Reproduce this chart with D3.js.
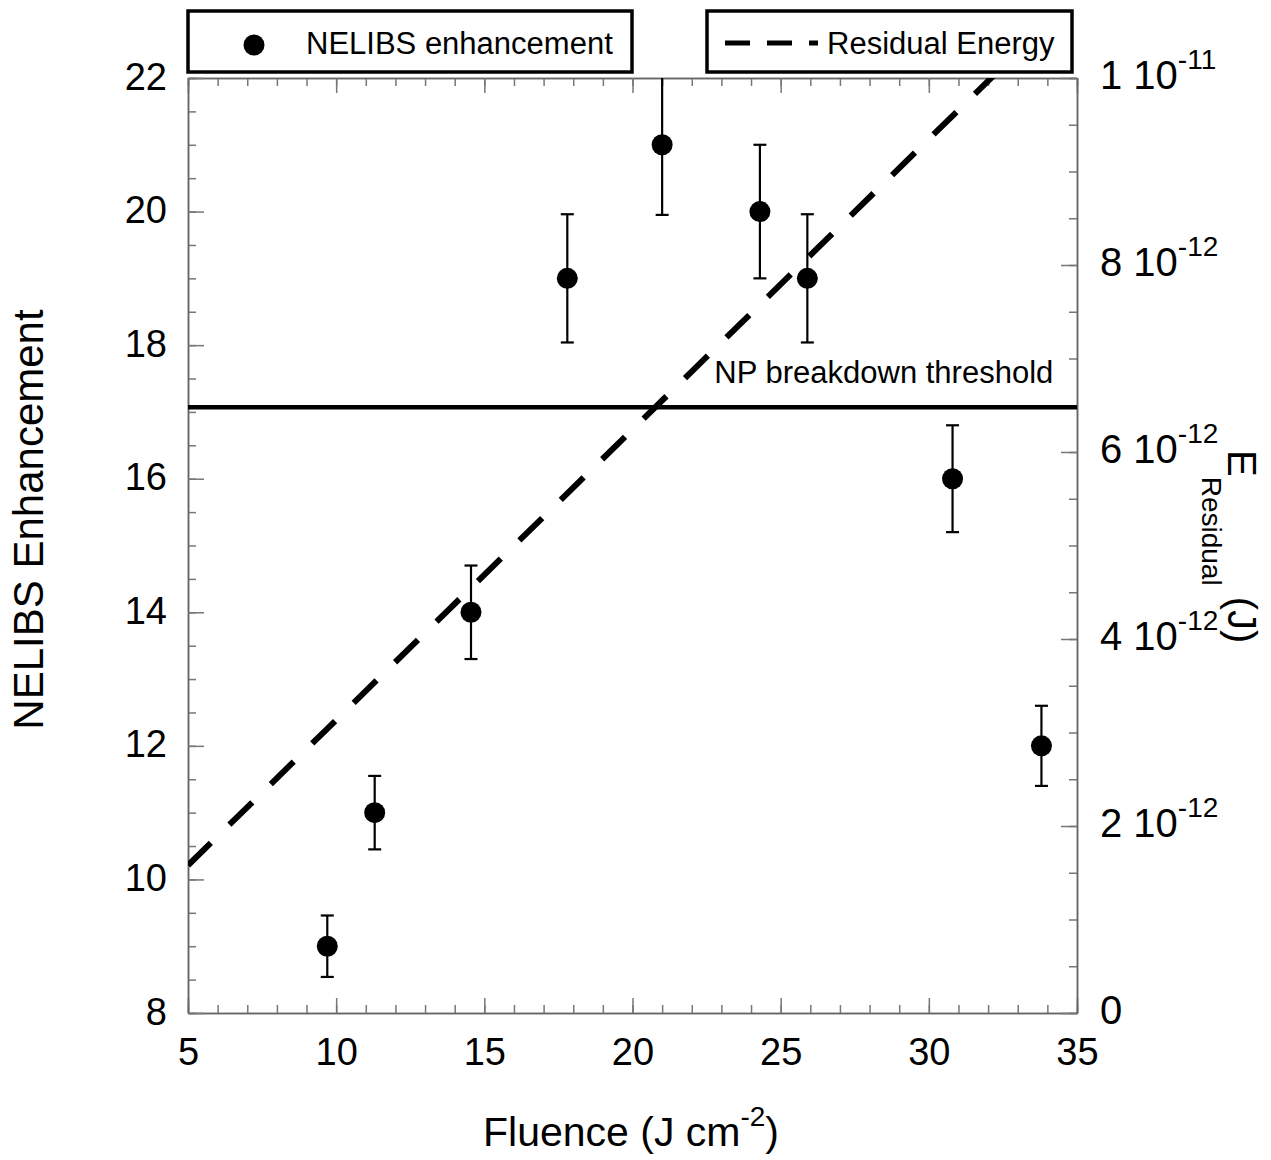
<!DOCTYPE html>
<html>
<head>
  <meta charset="UTF-8">
  <title>NELIBS enhancement vs fluence</title>
  <script src="https://d3js.org/d3.v7.min.js"></script>
  <style>
    body { margin: 0; background: white; }
    svg { font-family: "Liberation Sans", Arial, sans-serif; }
    .axis path { stroke: #666; stroke-width: 1.5; }
    .axis line { stroke: #777; stroke-width: 1.5; }
    .axis text { font-size: 38px; fill: black; font-family: "Liberation Sans", Arial, sans-serif; }
  </style>
</head>
<body>
  <svg width="1271" height="1160"></svg>

  <script>
    // NELIBS enhancement points
    const fluence = [9.7, 11.3, 14.55, 17.8, 21.0, 24.3, 25.9, 30.8, 33.8];
    const enhancement = [9, 11, 14, 19, 21, 20, 19, 16, 12];
    const enhancementErr = [0.46, 0.55, 0.7, 0.96, 1.05, 1.0, 0.96, 0.8, 0.6];

    // residual energy (right axis), straight line
    const residualFluence = [5, 35];
    const residualEnergy = [1.58e-12, 10.9e-12];

    const threshold = 17.07;

    const xTicks = [5, 10, 15, 20, 25, 30, 35];
    const yTicks = [8, 10, 12, 14, 16, 18, 20, 22];
    const y2Ticks = [0, 2e-12, 4e-12, 6e-12, 8e-12, 1e-11];

    const svg = d3.select("svg");
    const margin = { top: 78, right: 194, bottom: 147, left: 188 };
    const width = 1271 - margin.left - margin.right;
    const height = 1160 - margin.top - margin.bottom;

    const x = d3.scaleLinear().domain([5, 35]).range([0, width]);
    const y = d3.scaleLinear().domain([8, 22]).range([height, 0]);
    const y2 = d3.scaleLinear().domain([0, 1e-11]).range([height, 0]);

    const g = svg.append("g")
      .attr("transform", `translate(${margin.left},${margin.top})`);

    g.append("clipPath").attr("id", "plot-clip")
      .append("rect").attr("width", width).attr("height", height);

    // minor ticks first
    const xMinor = d3.range(5, 35.01, 1);
    const yMinor = d3.range(8, 22.01, 0.5);
    const y2Minor = d3.range(0, 1.001e-11, 0.5e-12);

    g.append("g").attr("class", "axis")
      .attr("transform", `translate(0,${height})`)
      .call(d3.axisBottom(x).tickValues(xMinor).tickSize(-8).tickSizeOuter(0).tickFormat(""));
    g.append("g").attr("class", "axis")
      .call(d3.axisTop(x).tickValues(xMinor).tickSize(-8).tickSizeOuter(0).tickFormat(""));
    g.append("g").attr("class", "axis")
      .call(d3.axisLeft(y).tickValues(yMinor).tickSize(-8).tickSizeOuter(0).tickFormat(""));
    g.append("g").attr("class", "axis")
      .attr("transform", `translate(${width},0)`)
      .call(d3.axisRight(y2).tickValues(y2Minor).tickSize(-8).tickSizeOuter(0).tickFormat(""));

    // major ticks
    g.append("g").attr("class", "axis")
      .attr("transform", `translate(0,${height})`)
      .call(d3.axisBottom(x).tickValues(xTicks).tickSize(-15).tickSizeOuter(0).tickFormat(d3.format("d")))
      .call(a => a.selectAll("text").attr("y", 52).attr("dy", null));

    g.append("g").attr("class", "axis")
      .call(d3.axisTop(x).tickValues(xTicks).tickSize(-15).tickSizeOuter(0).tickFormat(""));

    g.append("g").attr("class", "axis")
      .call(d3.axisLeft(y).tickValues(yTicks).tickSize(-16).tickSizeOuter(0).tickFormat(d3.format("d")))
      .call(a => a.selectAll("text").attr("x", -21).attr("y", 11).attr("dy", null));

    g.append("g").attr("class", "axis")
      .attr("transform", `translate(${width},0)`)
      .call(d3.axisRight(y2).tickValues(y2Ticks).tickSize(-16).tickSizeOuter(0).tickFormat(""))
      .call(a => a.selectAll("text").each(function (d) {
        const t = d3.select(this).attr("x", 23).attr("y", 10).attr("dy", null)
          .style("font-size", "40px");
        if (d === 0) { t.text("0"); return; }
        const exp = Math.floor(Math.log10(d) + 1e-9);
        const mant = Math.round(d / Math.pow(10, exp));
        t.append("tspan").text(mant + " 10");
        t.append("tspan").style("font-size", "28px").attr("dy", -20).text(String(exp));
      }));

    // threshold line
    g.append("line")
      .attr("x1", 0).attr("x2", width)
      .attr("y1", y(threshold)).attr("y2", y(threshold))
      .attr("stroke", "black").attr("stroke-width", 4.5);

    g.append("text")
      .attr("x", x(34.2)).attr("y", y(threshold) - 24)
      .attr("text-anchor", "end")
      .attr("font-size", "31px")
      .text("NP breakdown threshold");

    // residual energy dashed line
    const line = d3.line()
      .x((d, i) => x(residualFluence[i]))
      .y(d => y2(d));

    g.append("path")
      .attr("clip-path", "url(#plot-clip)")
      .attr("d", line(residualEnergy))
      .attr("fill", "none")
      .attr("stroke", "black")
      .attr("stroke-width", 6)
      .attr("stroke-dasharray", "32,26");

    // error bars
    const pts = fluence.map((f, i) => ({ f: f, v: enhancement[i], e: enhancementErr[i] }));
    const eb = g.append("g").attr("clip-path", "url(#plot-clip)")
      .attr("stroke", "black").attr("stroke-width", 2.2);

    eb.selectAll(".stem").data(pts).enter().append("line")
      .attr("x1", d => x(d.f)).attr("x2", d => x(d.f))
      .attr("y1", d => y(d.v + d.e)).attr("y2", d => y(d.v - d.e));
    eb.selectAll(".capTop").data(pts).enter().append("line")
      .attr("x1", d => x(d.f) - 6.5).attr("x2", d => x(d.f) + 6.5)
      .attr("y1", d => y(d.v + d.e)).attr("y2", d => y(d.v + d.e));
    eb.selectAll(".capBot").data(pts).enter().append("line")
      .attr("x1", d => x(d.f) - 6.5).attr("x2", d => x(d.f) + 6.5)
      .attr("y1", d => y(d.v - d.e)).attr("y2", d => y(d.v - d.e));

    g.selectAll(".dot").data(pts).enter().append("circle")
      .attr("cx", d => x(d.f)).attr("cy", d => y(d.v))
      .attr("r", 10.5).attr("fill", "black");

    // legends
    const leg1 = svg.append("g");
    leg1.append("rect").attr("x", 188).attr("y", 11).attr("width", 444).attr("height", 61)
      .attr("fill", "white").attr("stroke", "black").attr("stroke-width", 3.5);
    leg1.append("circle").attr("cx", 254).attr("cy", 45).attr("r", 10.5).attr("fill", "black");
    leg1.append("text").attr("x", 306).attr("y", 54).attr("font-size", "31px").text("NELIBS enhancement");

    const leg2 = svg.append("g");
    leg2.append("rect").attr("x", 707).attr("y", 11).attr("width", 365).attr("height", 61)
      .attr("fill", "white").attr("stroke", "black").attr("stroke-width", 3.5);
    leg2.append("line").attr("x1", 725).attr("x2", 818).attr("y1", 43).attr("y2", 43)
      .attr("stroke", "black").attr("stroke-width", 5).attr("stroke-dasharray", "25,17");
    leg2.append("text").attr("x", 827).attr("y", 54).attr("font-size", "31px").text("Residual Energy");

    // axis titles
    svg.append("text")
      .attr("transform", `translate(43,${margin.top + height / 2 - 26}) rotate(-90)`)
      .attr("text-anchor", "middle")
      .attr("font-size", "42px")
      .text("NELIBS Enhancement");

    const xt = svg.append("text")
      .attr("x", 483).attr("y", 1146)
      .attr("font-size", "41px");
    xt.append("tspan").text("Fluence (J cm");
    xt.append("tspan").attr("font-size", "28px").attr("dy", -20).text("-2");
    xt.append("tspan").attr("dy", 20).text(")");

    const yt = svg.append("text")
      .attr("transform", "translate(1228,450) rotate(90)")
      .attr("font-size", "40px");
    yt.append("tspan").text("E");
    yt.append("tspan").attr("font-size", "28px").attr("dy", 26).text("Residual");
    yt.append("tspan").attr("dy", -26).text(" (J)");
  </script>
</body>
</html>
